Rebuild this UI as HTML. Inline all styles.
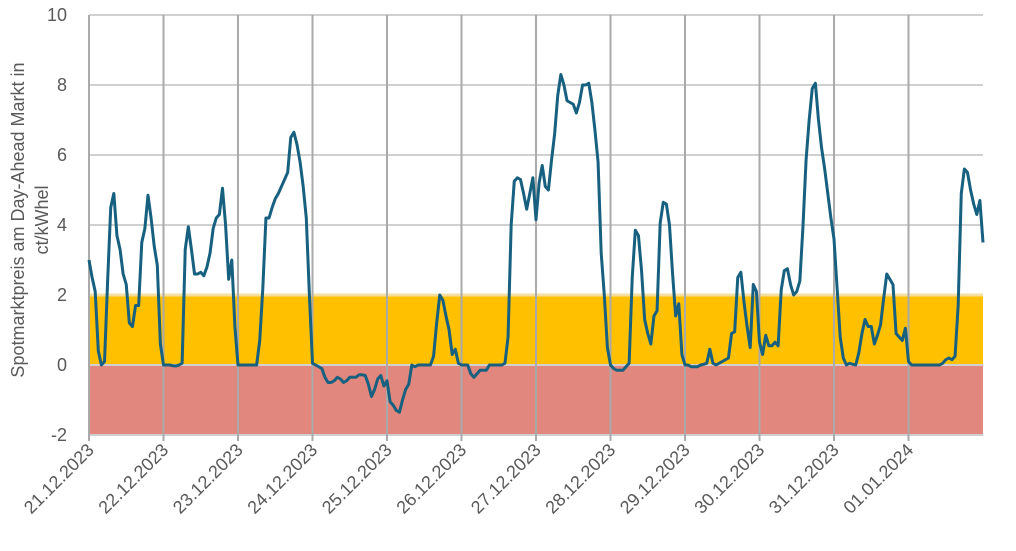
<!DOCTYPE html>
<html><head><meta charset="utf-8"><style>
body{margin:0;background:#fff;}
svg text{font-family:"Liberation Sans",sans-serif;fill:#595959;}
</style></head><body>
<svg id="chart" width="1016" height="546" xmlns="http://www.w3.org/2000/svg">
<g id="bands"></g><g id="grid"></g><g id="axes"></g><g id="series"></g>
<text transform="translate(24,220) rotate(-90)" text-anchor="middle" font-size="18">Spotmarktpreis am Day-Ahead Markt in</text>
<text transform="translate(48,220) rotate(-90)" text-anchor="middle" font-size="18">ct/kWhel</text>
</svg>
<script>
const dayLabels=["21.12.2023","22.12.2023","23.12.2023","24.12.2023","25.12.2023","26.12.2023","27.12.2023","28.12.2023","29.12.2023","30.12.2023","31.12.2023","01.01.2024"];
const yTicks=[-2,0,2,4,6,8,10];
const prices=[
3.0,2.5,2.1,0.4,0,0.1,2.4,4.5,4.9,3.7,3.3,2.6,2.3,1.2,1.1,1.7,1.7,3.5,3.9,4.85,4.2,3.4,2.85,0.6,
0,0,0,-0.02,-0.03,0,0.05,3.3,3.95,3.3,2.6,2.6,2.65,2.55,2.8,3.2,3.9,4.2,4.3,5.05,4.0,2.45,3.0,1.1,
0,0,0,0,0,0,0,0.7,2.2,4.2,4.2,4.5,4.75,4.9,5.1,5.3,5.5,6.5,6.65,6.3,5.8,5.1,4.2,2.0,
0.05,0,-0.05,-0.1,-0.35,-0.5,-0.5,-0.45,-0.35,-0.4,-0.5,-0.45,-0.35,-0.35,-0.35,-0.28,-0.28,-0.3,-0.55,-0.9,-0.7,-0.4,-0.3,-0.6,
-0.45,-1.05,-1.15,-1.3,-1.35,-1.0,-0.7,-0.55,0,-0.05,0,0,0,0,0,0.25,1.2,2.0,1.85,1.4,1.0,0.3,0.45,0.05,
0,0,0,-0.25,-0.35,-0.25,-0.15,-0.15,-0.15,0,0,0,0,0,0.05,0.8,4.0,5.25,5.35,5.3,4.9,4.45,4.9,5.35,
4.15,5.2,5.7,5.1,5.0,5.85,6.6,7.7,8.3,8.0,7.55,7.5,7.45,7.2,7.5,8.0,8.0,8.05,7.5,6.7,5.8,3.2,2.0,0.5,
0,-0.1,-0.15,-0.15,-0.15,-0.05,0.05,2.5,3.85,3.7,2.7,1.3,0.9,0.6,1.4,1.55,4.05,4.65,4.6,4.0,2.6,1.4,1.75,0.3,
0,0,-0.05,-0.05,-0.05,0,0.02,0.05,0.45,0.05,0,0.05,0.1,0.15,0.2,0.9,0.95,2.5,2.65,1.8,1.1,0.5,2.3,2.1,
0.65,0.3,0.85,0.55,0.55,0.65,0.55,2.15,2.7,2.75,2.3,2.0,2.1,2.4,3.95,5.85,7.0,7.9,8.05,7.0,6.2,5.6,4.9,4.2,
3.6,2.2,0.8,0.2,0,0.05,0.02,0,0.35,0.9,1.3,1.1,1.1,0.6,0.85,1.15,1.9,2.6,2.45,2.3,0.9,0.8,0.7,1.05,
0.1,0,0,0,0,0,0,0,0,0,0,0.05,0.15,0.2,0.15,0.25,1.7,4.9,5.6,5.5,5.0,4.6,4.3,4.7,3.5];
const X0=89,X1=983,HOURS=288,Y0=435,Y1=15,VMIN=-2,VMAX=10;
const xs=h=>X0+(X1-X0)*h/HOURS;
const ys=v=>Y0-(Y0-Y1)*(v-VMIN)/(VMAX-VMIN);
const NS="http://www.w3.org/2000/svg";
function mk(tag,attrs,parent){const e=document.createElementNS(NS,tag);for(const k in attrs)e.setAttribute(k,attrs[k]);document.getElementById(parent).appendChild(e);return e;}
let r=mk("rect",{x:X0,y:ys(2),width:X1-X0,height:ys(0)-ys(2),fill:"#FFC000"},"bands");


r=mk("rect",{x:X0,y:ys(0),width:X1-X0,height:ys(-2)-ys(0),fill:"#E2877E"},"bands");


yTicks.forEach(t=>{
  const l=mk("line",{x1:X0,x2:X1,y1:ys(t),y2:ys(t),stroke:t===2?"#f5dfa0":"#d0d0d0","stroke-width":t===2?3:2},"grid");
  
  
  const tx=mk("text",{x:67,y:ys(t)+6,"text-anchor":"end","font-size":"18"},"axes");
  tx.textContent=t;
  
  
});
dayLabels.forEach((d,i)=>{
  const x=xs(i*24);
  const l=mk("line",{x1:x,x2:x,y1:Y1,y2:Y0+6,stroke:"#aaaaaa","stroke-width":2},"grid");
  
  
  const tx=mk("text",{transform:`translate(${x+6},${Y0+16}) rotate(-45)`,"text-anchor":"end","font-size":"18"},"axes");
  tx.textContent=d;
  
  
});
const p=mk("polyline",{points:prices.map((v,i)=>xs(i)+","+ys(v)).join(" "),fill:"none",stroke:"#17607F","stroke-width":3,"stroke-linejoin":"round"},"series");


</script>
</body></html>
